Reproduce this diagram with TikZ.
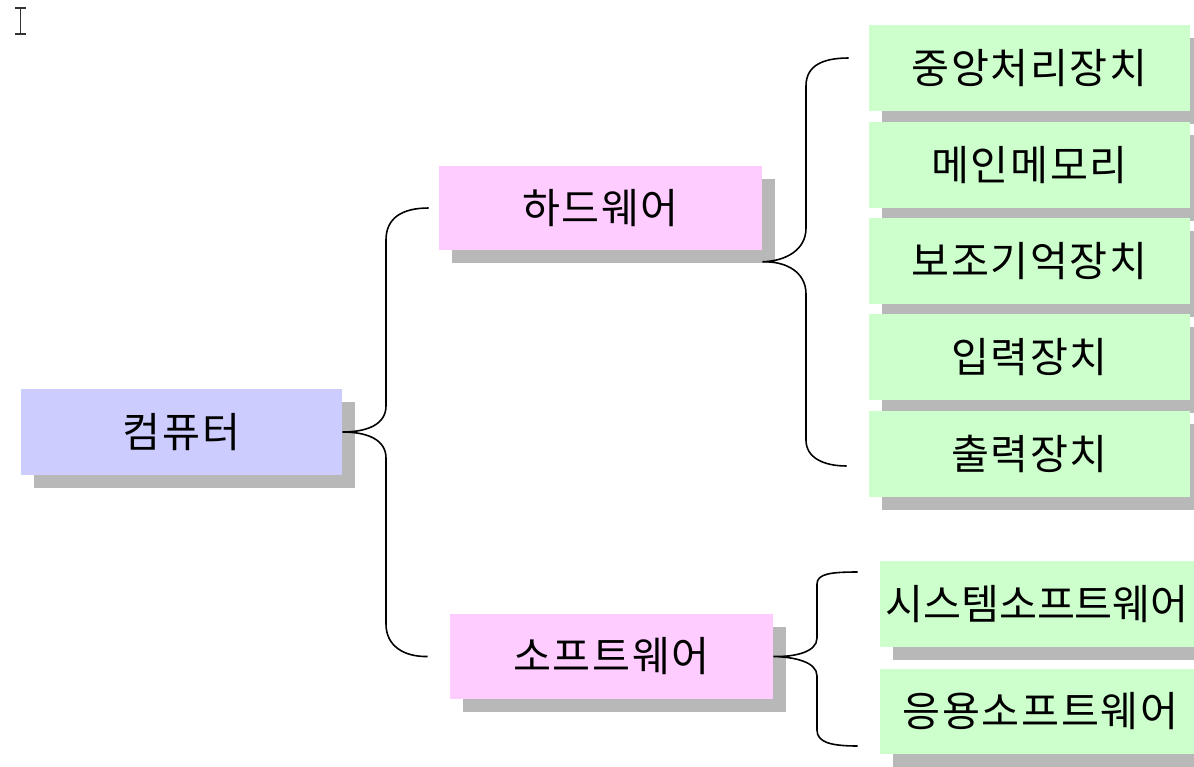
\documentclass[tikz,border=0pt]{standalone}
\usepackage{fontspec}
\newfontfamily\kr[LetterSpace=4]{Noto Sans CJK KR}
\newfontfamily\krtight{Noto Sans CJK KR}
\usetikzlibrary{shadows,calc}
\definecolor{bluebox}{HTML}{CCCCFF}
\definecolor{pinkbox}{HTML}{FFCCFF}
\definecolor{greenbox}{HTML}{CCFFCC}
\definecolor{shadowgray}{HTML}{B8B8B8}
\tikzset{
  boxbase/.style={rectangle, inner sep=0pt, font=\kr\fontsize{23.5}{28}\selectfont, text=black,
    drop shadow={shadow xshift=0.26cm, shadow yshift=-0.26cm, fill=shadowgray, opacity=1}},
  bluenode/.style={boxbase, fill=bluebox, minimum width=6.42cm, minimum height=1.72cm},
  pinknode/.style={boxbase, fill=pinkbox, minimum width=6.46cm, minimum height=1.7cm},
  greennode/.style={boxbase, fill=greenbox, minimum width=6.42cm, minimum height=1.72cm},
  tighttext/.style={font=\krtight\fontsize{23.5}{28}\selectfont},
  brace/.style={draw=black, line width=0.9pt},
  cursor/.style={draw=black!80, line width=0.6pt}
}
\begin{document}
\begin{tikzpicture}[x=0.02cm,y=-0.02cm]
\clip (0,0) rectangle (1194,767);
\fill[white] (0,0) rectangle (1194,767);
% text cursor
\draw[cursor] (15,8) -- (26,8) (20.5,8) -- (20.5,34) (15,34) -- (26,34);
% nodes
\node[bluenode] (comp) at (181.5,432) {컴퓨터};
\node[pinknode] (hw) at (600.5,208) {하드웨어};
\node[pinknode] (sw) at (611.5,656.5) {소프트웨어};
\node[greennode] (g1) at (1029.5,68) {중앙처리장치};
\node[greennode] (g2) at (1029.5,165) {메인메모리};
\node[greennode] (g3) at (1029.5,261) {보조기억장치};
\node[greennode] (g4) at (1029.5,357) {입력장치};
\node[greennode] (g5) at (1029.5,454) {출력장치};
\node[greennode] (s1) at (1040.5,604) {};
\node[tighttext, text=black, inner sep=0pt] (s1text) at (1037,604) {시스템소프트웨어};
\node[greennode] (s2) at (1040.5,711.5) {응용소프트웨어};
% brace end points
\coordinate (hwin) at ($(hw.west)+(-10,0)$);
\coordinate (swin) at ($(sw.west)+(-22,0)$);
\coordinate (hwtip) at ($(hw.south east)+(0,11)$);
\coordinate (g1in) at ($(g1.west)+(-20,-10)$);
\coordinate (g5in) at ($(g5.west)+(-22,12)$);
\coordinate (s1in) at ($(s1.west)+(-22,-32)$);
\coordinate (s2in) at ($(s2.west)+(-22,34.5)$);
% main brace
\draw[brace] (hwin) .. controls (402,208) and (386,218) .. (386,240)
  -- (386,406) .. controls (386,424) and (368,432) .. (comp.east)
  .. controls (368,432) and (386,440) .. (386,458)
  -- (386,624) .. controls (386,646) and (404,657) .. (swin);
% hardware brace
\draw[brace] (g1in) .. controls (822,58) and (806,66) .. (806,86)
  -- (806,228) .. controls (806,250) and (786,261) .. (hwtip)
  .. controls (786,261) and (806,272) .. (806,294)
  -- (806,440) .. controls (806,458) and (824,466) .. (g5in);
% software brace
\draw[brace] (s1in) .. controls (830,572) and (817,574) .. (817,584)
  -- (817,638) .. controls (817,652) and (795,657) .. (sw.east)
  .. controls (795,657) and (817,662) .. (817,676)
  -- (817,730) .. controls (817,742) and (830,746) .. (s2in);
\end{tikzpicture}
\end{document}
